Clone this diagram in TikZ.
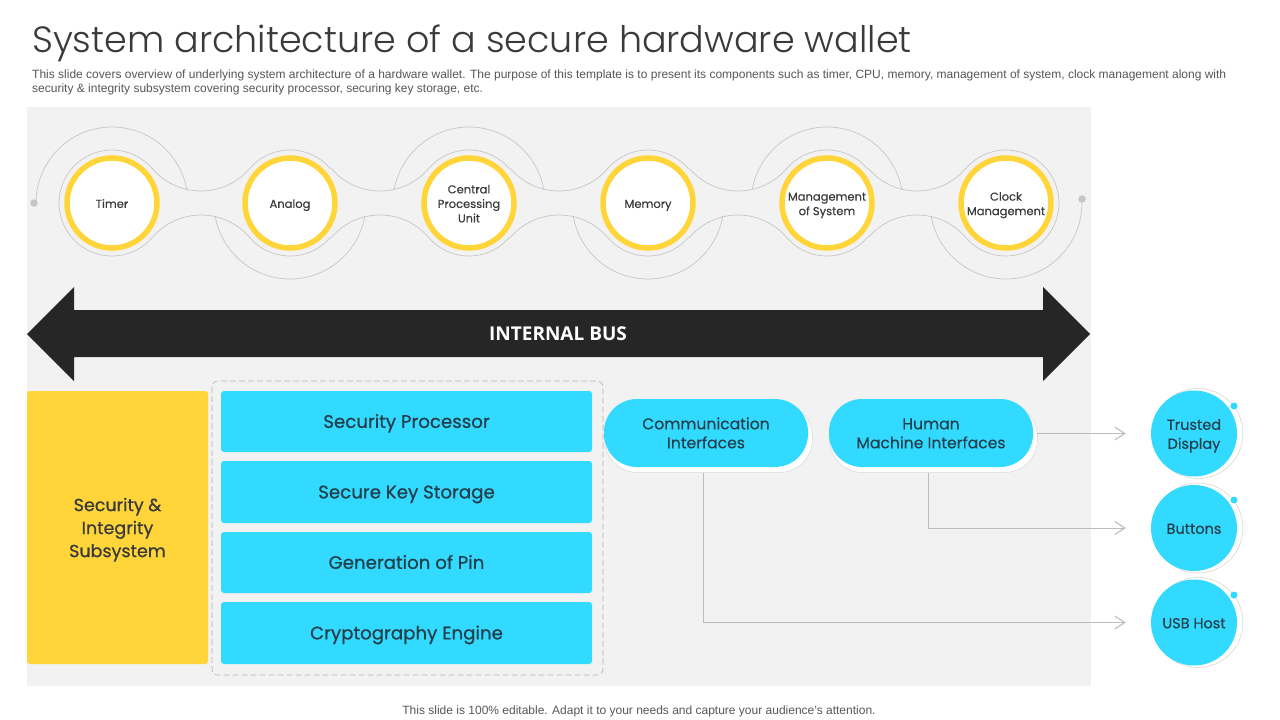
\documentclass[tikz,border=0pt]{standalone}
\usepackage{fontspec}
\usetikzlibrary{calc,arrows.meta}
\setmainfont{Liberation Sans}
\newfontfamily\gothic[FakeBold=0.25]{Poppins}
\newfontfamily\gothicb[FakeBold=0.7]{Poppins}
\newfontfamily\titlef{Poppins Light}
\newfontfamily\busf{Open Sans}
\definecolor{panel}{HTML}{F2F2F2}
\definecolor{wire}{HTML}{C6C6C6}
\definecolor{sun}{HTML}{FFD53A}
\definecolor{sky}{HTML}{33DAFF}
\definecolor{ink}{HTML}{3A3A3A}
\definecolor{deep}{HTML}{243F4C}
\definecolor{busc}{HTML}{262626}
\newcommand{\warc}[5]{\draw[wire,line width=.7pt,line cap=round] plot[smooth,domain=#4:#5,samples=30] ({#1+#3*cos(\x)},{#2+#3*sin(\x)});}
\newcommand{\lbl}[1]{\raisebox{-2pt}[\height][\depth]{\begin{tabular}{@{}c@{}}#1\end{tabular}}}
\setlength{\tabcolsep}{0pt}
\tikzset{
 stage/.style={circle,draw=sun,line width=5.5pt,fill=white,minimum size=90pt,inner sep=0pt,text=ink,font=\gothic\fontsize{11.5}{14.5}\selectfont},
 bluebox/.style={rectangle,rounded corners=3pt,fill=sky,minimum width=371pt,inner sep=0pt,text=deep,font=\gothicb\fontsize{18.2}{22}\selectfont},
 pill/.style={rectangle,rounded corners=33pt,fill=sky,minimum width=204pt,minimum height=68pt,inner sep=0pt,text=deep,font=\gothic\fontsize{15.6}{19}\selectfont},
 pillback/.style={rectangle,rounded corners=33pt,draw=wire!70,line width=.5pt,fill=white,minimum width=208pt,minimum height=69pt,inner sep=0pt},
 ball/.style={circle,fill=sky,minimum size=86pt,inner sep=0pt,text=deep,font=\gothic\fontsize{14.5}{19}\selectfont},
 ballback/.style={circle,draw=wire!80,line width=.5pt,fill=white,minimum size=90pt,inner sep=0pt},
 spot/.style={circle,fill=sky,minimum size=7pt,inner sep=0pt},
 dotend/.style={circle,fill=wire,minimum size=7.5pt,inner sep=0pt},
 conn/.style={draw=wire!95!black,line width=1pt,shorten >=25pt,-{Straight Barb[length=10pt,width=13pt,line width=1.1pt]}},
}
\begin{document}
\begin{tikzpicture}[x=1pt,y=-1pt]
\useasboundingbox (0,0) rectangle (1280,720);
\fill[white] (0,0) rectangle (1280,720);
\fill[panel] (27,107) rectangle (1091,686);
\node[anchor=west,inner sep=0pt,text=ink,font=\titlef\fontsize{36.5}{44}\selectfont] (title) at (32,43) {System architecture of a secure hardware wallet};
\node[anchor=north west,inner sep=0pt,text=ink!85,align=left,font=\fontsize{12}{14}\selectfont] (sub) at (32,69.5) {This slide covers overview of underlying system architecture of a hardware wallet. The purpose of this template is to present its components such as timer, CPU, memory, management of system, clock management along with\\security \& integrity subsystem covering security processor, securing key storage, etc.};
\node[inner sep=0pt,text=ink!85,font=\fontsize{12}{14}\selectfont] (foot) at (639,711) {This slide is 100\% editable. Adapt it to your needs and capture your audience's attention.};
% wave
\foreach \c in {290,469,648,827}{
  \warc{\c}{203}{53}{-139.5}{-40.5}
  \warc{\c}{203}{53}{40.5}{139.5}
}
\warc{112}{203}{53}{40.5}{319.5}
\warc{1006}{203}{53}{-139.5}{139.5}
\foreach \c in {201,380,559,738,917}{
  \warc{\c}{127}{64}{40.5}{139.5}
  \warc{\c}{279}{64}{-139.5}{-40.5}
}
\warc{112}{203}{76}{180}{350}
\warc{290}{203}{76}{10}{170}
\warc{469}{203}{76}{190}{350}
\warc{648}{203}{76}{10}{170}
\warc{827}{203}{76}{190}{350}
\warc{1006}{203}{76}{-4}{170}
\node[dotend] (startdot) at (34,203) {};
\node[dotend] (enddot) at (1082,199) {};
\node[stage] (timer) at (112,203) {\lbl{Timer}};
\node[stage] (analog) at (290,203) {\lbl{Analog}};
\node[stage] (cpu) at (469,203) {\lbl{Central\\Processing\\Unit}};
\node[stage] (memory) at (648,203) {\lbl{Memory}};
\node[stage] (mgmt) at (827,203) {\lbl{Management\\of System}};
\node[stage] (clock) at (1006,203) {\lbl{Clock\\Management}};
% bus
\fill[busc] (27,334) -- (74,287) -- (74,310) -- (1043,310) -- (1043,287) -- (1090,334) -- (1043,381) -- (1043,357) -- (74,357) -- (74,381) -- cycle;
\node[text=white,inner sep=0pt,font=\busf\bfseries\fontsize{19}{23}\selectfont] (bus) at (558,334) {INTERNAL BUS};
% security
\draw[wire!90!black,line width=.6pt,dash pattern=on 6pt off 3pt,rounded corners=6pt] (212,381) rectangle (603,675);
\node[rectangle,rounded corners=3pt,fill=sun,minimum width=181pt,minimum height=273pt,inner sep=0pt,text=ink,font=\gothicb\fontsize{17.5}{23}\selectfont] (sec) at (117.5,527.5) {\lbl{Security \&\\Integrity\\Subsystem}};
\node[bluebox,minimum height=61pt] (b1) at (406.5,421.5) {\lbl{Security Processor}};
\node[bluebox,minimum height=62pt] (b2) at (406.5,492) {\lbl{Secure Key Storage}};
\node[bluebox,minimum height=61pt] (b3) at (406.5,562.5) {\lbl{Generation of Pin}};
\node[bluebox,minimum height=62pt] (b4) at (406.5,633) {\lbl{Cryptography Engine}};
% pills
\node[pillback] (commb) at (708.5,438) {};
\node[pillback] (hmib) at (933.5,438) {};
\node[pill] (comm) at (706,433) {\lbl{Communication\\Interfaces}};
\node[pill] (hmi) at (931,433) {\lbl{Human\\Machine Interfaces}};
% balls
\node[ballback] (t0) at (1198,433.5) {};
\node[ballback] (b0) at (1198,528) {};
\node[ballback] (u0) at (1198,622.5) {};
\node[ball] (trusted) at (1194,433.5) {\lbl{Trusted\\Display}};
\node[ball] (buttons) at (1194,528) {\lbl{Buttons}};
\node[ball] (usb) at (1194,622.5) {\lbl{USB Host}};
\node[spot] (s1) at (1234,406) {};
\node[spot] (s2) at (1234,500) {};
\node[spot] (s3) at (1234,595) {};
% connectors
\draw[conn] ([xshift=-1pt]hmib.east |- trusted.west) -- (trusted.west);
\draw[conn] ([xshift=-3pt]hmib.south -| hmi.south) |- (buttons.west);
\draw[conn] ([xshift=-3pt]commb.south -| comm.south) |- (usb.west);
\end{tikzpicture}
\end{document}
